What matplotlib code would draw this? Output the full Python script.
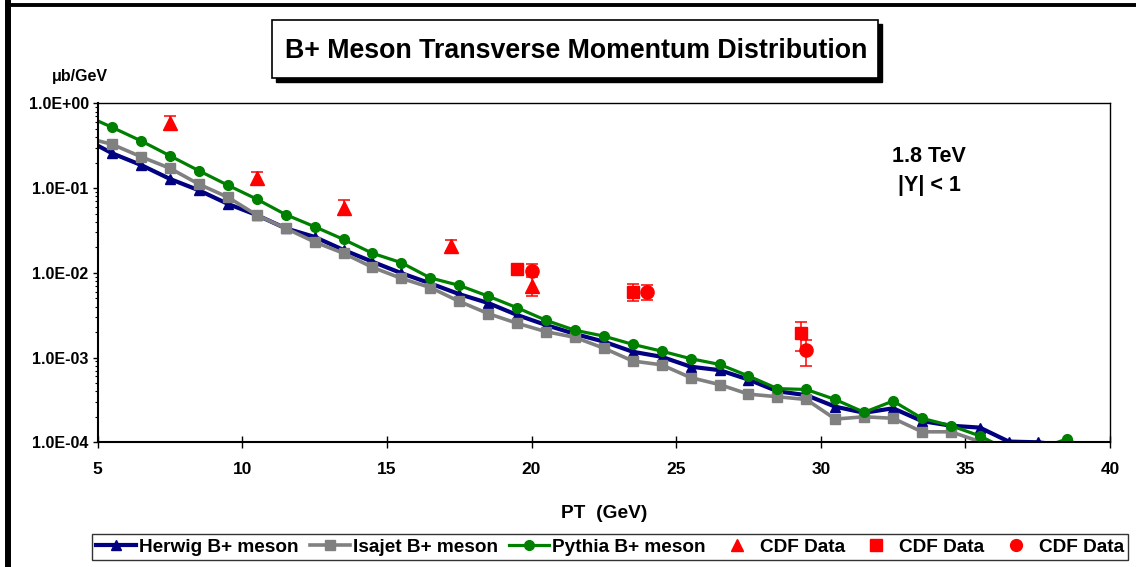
import math
import matplotlib
matplotlib.use("Agg")
import matplotlib.pyplot as plt
from matplotlib.patches import Rectangle
from matplotlib.lines import Line2D
from matplotlib.ticker import FixedLocator, FuncFormatter, LogLocator, NullFormatter

plt.rcParams['font.family'] = ['Liberation Sans', 'DejaVu Sans']
plt.rcParams['font.weight'] = 'bold'

# bin centres (GeV); the first point sits just left of the axis
pt = [4.5, 5.5, 6.5, 7.5, 8.5, 9.5, 10.5, 11.5, 12.5, 13.5, 14.5, 15.5,
      16.5, 17.5, 18.5, 19.5, 20.5, 21.5, 22.5, 23.5, 24.5, 25.5, 26.5, 27.5,
      28.5, 29.5, 30.5, 31.5, 32.5, 33.5, 34.5, 35.5, 36.5, 37.5, 38.5, 39.5]

herwig = [0.39, 0.257, 0.187, 0.128, 0.094, 0.065, 0.048, 0.0335, 0.0265, 0.0186,
          0.0135, 0.0099, 0.0075, 0.0056, 0.0044, 0.00318, 0.00242, 0.0019, 0.00154,
          0.00117, 0.00102, 0.00078, 0.00071, 0.00055, 0.00040, 0.00036, 0.000263,
          0.000223, 0.000252, 0.000178, 0.000157, 0.000149, 0.000102, 0.0001,
          0.000092, 0.00007]
isajet = [0.40, 0.328, 0.234, 0.171, 0.111, 0.078, 0.048, 0.0335, 0.0231, 0.017,
          0.0116, 0.0086, 0.0067, 0.0046, 0.0033, 0.00254, 0.00202, 0.00173, 0.00129,
          0.00091, 0.00082, 0.00058, 0.00048, 0.00037, 0.000345, 0.00032, 0.000188,
          0.0002, 0.000192, 0.000133, 0.000133, 0.000102, 0.00007, 0.00007,
          0.00007, 0.00006]
pythia = [0.74, 0.52, 0.36, 0.24, 0.16, 0.108, 0.074, 0.0486, 0.035, 0.0248,
          0.017, 0.01315, 0.0087, 0.0071, 0.0053, 0.00387, 0.00275, 0.0021, 0.00179,
          0.00143, 0.00119, 0.00097, 0.00083, 0.000606, 0.00043, 0.00042, 0.00032,
          0.000226, 0.000307, 0.000192, 0.000157, 0.000119, 0.00008, 0.000083,
          0.000109, 0.000075]

# CDF data points
cdf_tri_x = [7.5, 10.5, 13.5, 17.2, 20.0]
cdf_tri_y = [0.59, 0.130, 0.0587, 0.0209, 0.0069]
cdf_tri_lo = [0.10, 0.022, 0.011, 0.003, 0.0016]
cdf_tri_hi = [0.12, 0.026, 0.013, 0.0035, 0.0025]

cdf_sq_x = [19.5, 23.5, 29.3]
cdf_sq_y = [0.0111, 0.0060, 0.00193]
cdf_sq_lo = [0.0012, 0.0014, 0.00073]
cdf_sq_hi = [0.0012, 0.0014, 0.0007]

cdf_ci_x = [20.0, 24.0, 29.5]
cdf_ci_y = [0.0106, 0.0060, 0.00123]
cdf_ci_lo = [0.0017, 0.0012, 0.00043]
cdf_ci_hi = [0.0021, 0.0012, 0.00038]

W, H = 1136, 567
fig = plt.figure(figsize=(W / 100, H / 100), dpi=100)

# outer chart frame (only left and top edges are visible)
fig.add_artist(Line2D([8 / W, 8 / W], [0, 1 - 3 / H], color='black', lw=4.3,
                      transform=fig.transFigure))
fig.add_artist(Line2D([8 / W, 1], [1 - 4.5 / H, 1 - 4.5 / H], color='black', lw=2.8,
                      transform=fig.transFigure))

ax = fig.add_axes([97.7 / W, 1 - 442.3 / H, (1110 - 97.7) / W, (442.3 - 103.3) / H])

ax.plot(pt, herwig, color='#000080', lw=3, marker='^', ms=7, label='Herwig B+ meson')
ax.plot(pt, isajet, color='#808080', lw=2.6, marker='s', ms=7, label='Isajet B+ meson')
ax.plot(pt, pythia, color='#008000', lw=2.3, marker='o', ms=7, label='Pythia B+ meson')

ax.errorbar(cdf_tri_x, cdf_tri_y, yerr=[cdf_tri_lo, cdf_tri_hi], fmt='^', color='red',
            ms=9.5, elinewidth=1.1, capsize=4, capthick=1.1)
ax.errorbar(cdf_sq_x, cdf_sq_y, yerr=[cdf_sq_lo, cdf_sq_hi], fmt='s', color='red',
            ms=9, elinewidth=1.1, capsize=4, capthick=1.1)
ax.errorbar(cdf_ci_x, cdf_ci_y, yerr=[cdf_ci_lo, cdf_ci_hi], fmt='o', color='red',
            ms=9.5, elinewidth=1.1, capsize=4, capthick=1.1)

ax.set_yscale('log')
ax.set_xlim(5, 40)
ax.set_ylim(1e-4, 1)

ax.yaxis.set_major_locator(FixedLocator([1e-4, 1e-3, 1e-2, 1e-1, 1]))
ax.yaxis.set_major_formatter(FuncFormatter(lambda v, p: '1.0E%+03d' % round(math.log10(v))))
ax.yaxis.set_minor_locator(LogLocator(base=10, subs=range(2, 10)))
ax.yaxis.set_minor_formatter(NullFormatter())
ax.set_xticks([5, 10, 15, 20, 25, 30, 35, 40])

ax.tick_params(axis='x', direction='inout', length=9, width=1, labelsize=12.5, pad=10)
ax.tick_params(axis='y', which='major', direction='out', length=3.5, width=1,
               labelsize=11.5, pad=3)
ax.tick_params(axis='y', which='minor', direction='out', length=2.2, width=0.8)
for lab in ax.get_xticklabels() + ax.get_yticklabels():
    lab.set_fontweight('bold')

ax.spines['left'].set_linewidth(1.5)
ax.spines['bottom'].set_linewidth(1.5)
ax.spines['top'].set_linewidth(1)
ax.spines['right'].set_linewidth(1)

fig.text(929 / W, 1 - 157 / H, '1.8 TeV', ha='center', va='center', fontsize=15.5,
         fontweight='bold')
fig.text(929 / W, 1 - 186 / H, '|Y| < 1', ha='center', va='center', fontsize=15.5,
         fontweight='bold')

fig.text(604 / W, 1 - 514 / H, 'PT  (GeV)', ha='center', va='center', fontsize=13.8,
         fontweight='bold')
fig.text(80 / W, 1 - 76 / H, 'μb/GeV', ha='center', va='center', fontsize=11.5,
         fontweight='bold')

# title box with drop shadow
fig.add_artist(Rectangle((276 / W, 1 - 82 / H), 606 / W, 58 / H, facecolor='black',
                         edgecolor='black', transform=fig.transFigure))
fig.add_artist(Rectangle((272 / W, 1 - 78 / H), 606 / W, 58 / H, facecolor='white',
                         edgecolor='black', lw=1.2, transform=fig.transFigure))
fig.text(576 / W, 1 - 51 / H, 'B+ Meson Transverse Momentum Distribution',
         ha='center', va='center', fontsize=19.3, fontweight='bold')

handles = [
    Line2D([], [], color='#000080', lw=3, marker='^', ms=7),
    Line2D([], [], color='#808080', lw=2.6, marker='s', ms=7),
    Line2D([], [], color='#008000', lw=2.3, marker='o', ms=7),
    Line2D([], [], color='red', lw=0, marker='^', ms=8.5),
    Line2D([], [], color='red', lw=0, marker='s', ms=8.5),
    Line2D([], [], color='red', lw=0, marker='o', ms=8.5),
]
labels = ['Herwig B+ meson', 'Isajet B+ meson', 'Pythia B+ meson',
          'CDF Data', 'CDF Data', 'CDF Data']
leg = fig.legend(handles, labels, loc='center', bbox_to_anchor=(610 / W, 1 - 547 / H),
                 ncol=6, fontsize=13.7, frameon=True, fancybox=False, borderpad=0.25,
                 handlelength=2.1, handletextpad=0.15, columnspacing=0.6,
                 borderaxespad=0, numpoints=1)
leg.get_frame().set_edgecolor('black')
leg.get_frame().set_linewidth(1)
for t in leg.get_texts():
    t.set_fontweight('bold')

fig.savefig('out.png', dpi=100)
